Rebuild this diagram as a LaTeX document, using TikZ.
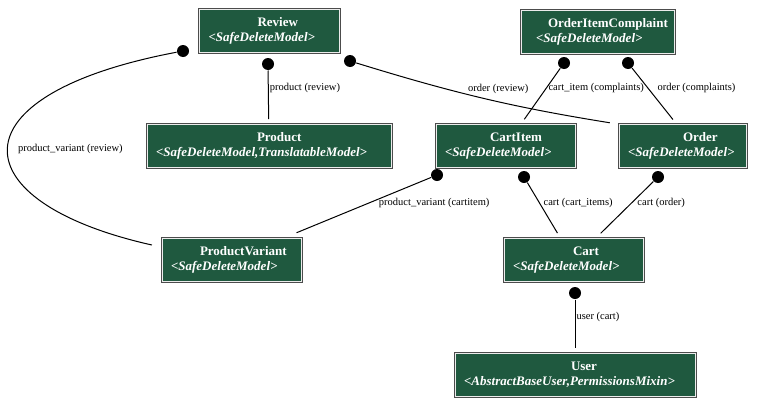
\documentclass[tikz,border=0pt]{standalone}
\usepackage{fontspec}
\setmainfont{Liberation Serif}
\definecolor{modelgreen}{RGB}{31,89,63}

\begin{document}
\begin{tikzpicture}[x=1pt,y=-1pt,line width=1pt,
    model/.style={rectangle,fill=modelgreen,draw=white!85!gray,line width=0.6pt,
                  preaction={draw=gray!60!black,line width=3pt},text=white,align=left,
                  inner xsep=9pt,minimum height=43pt,font=\fontsize{13}{15}\selectfont\bfseries},
    tail/.style={circle,fill=black,draw=none,inner sep=0pt,minimum size=12pt},
    lbl/.style={inner sep=1pt,font=\fontsize{10.5}{12}\selectfont}]
  \useasboundingbox (0,0) rectangle (775,407);

  % models
  \node[model,text width=122pt] (rev)  at (269.5,31)  {\hspace*{49pt}Review\\\textit{<SafeDeleteModel>}};
  \node[model,text width=135pt] (oic)  at (597.5,31.5) {\hspace*{18pt}\mbox{OrderItemComplaint}\\\hspace*{6pt}\textit{<SafeDeleteModel>}};
  \node[model,text width=226pt] (prod) at (269,146)   {\hspace*{101pt}Product\\\textit{<SafeDeleteModel,TranslatableModel>}};
  \node[model,text width=121pt] (item) at (505.5,146) {\hspace*{45pt}CartItem\\\textit{<SafeDeleteModel>}};
  \node[model,text width=109pt] (ord)  at (682.5,146) {\hspace*{55pt}Order\\\textit{<SafeDeleteModel>}};
  \node[model,text width=121pt] (var)  at (231.5,259.5) {\hspace*{29pt}\mbox{ProductVariant}\\\textit{<SafeDeleteModel>}};
  \node[model,text width=121pt] (cart) at (573.5,260) {\hspace*{60pt}Cart\\\textit{<SafeDeleteModel>}};
  \node[model,text width=222pt] (user) at (575,374.5) {\hspace*{107pt}User\\\textit{<AbstractBaseUser,PermissionsMixin>}};

  % tails
  \node[tail] (rev-a)  at (183,51)  {};
  \node[tail] (rev-b)  at (268,64)  {};
  \node[tail] (rev-c)  at (350,61)  {};
  \node[tail] (oic-a)  at (564,63)  {};
  \node[tail] (oic-b)  at (628,63)  {};
  \node[tail] (item-a) at (437,175) {};
  \node[tail] (item-b) at (524,177) {};
  \node[tail] (ord-a)  at (658,177) {};
  \node[tail] (cart-a) at (575,293) {};

  \path (rev-b) edge [shorten >=5pt] node [lbl,pos=0.33,right] {product (review)} (prod)
        (rev-c) edge [bend right=4,shorten >=9pt] node [lbl,pos=0.55,above=6pt] {order (review)} (ord.north west)
        (oic-a) edge [shorten >=6pt] node [lbl,pos=0.36,right=1pt] {cart\_item (complaints)} (item)
        (oic-b) edge [shorten >=6pt] node [lbl,pos=0.36,right=8pt] {order (complaints)} (ord.105)
        (item-a) edge [shorten >=13pt] node [lbl,pos=0.42,right=8pt] {product\_variant (cartitem)} (var)
        (item-b) edge [shorten >=6pt] node [lbl,pos=0.37,right=2.5pt] {cart (cart\_items)} (cart)
        (ord-a) edge [shorten >=7pt] node [lbl,pos=0.38,right=4.5pt] {cart (order)} (cart)
        (cart-a) edge [shorten >=5pt] node [lbl,pos=0.33,right] {user (cart)} (user);
  \draw[shorten >=10pt] (rev-a) .. controls (-50,95) and (-40,202) .. (var.170)
        node [lbl,pos=0.5,right=8pt] {product\_variant (review)};
\end{tikzpicture}
\end{document}
